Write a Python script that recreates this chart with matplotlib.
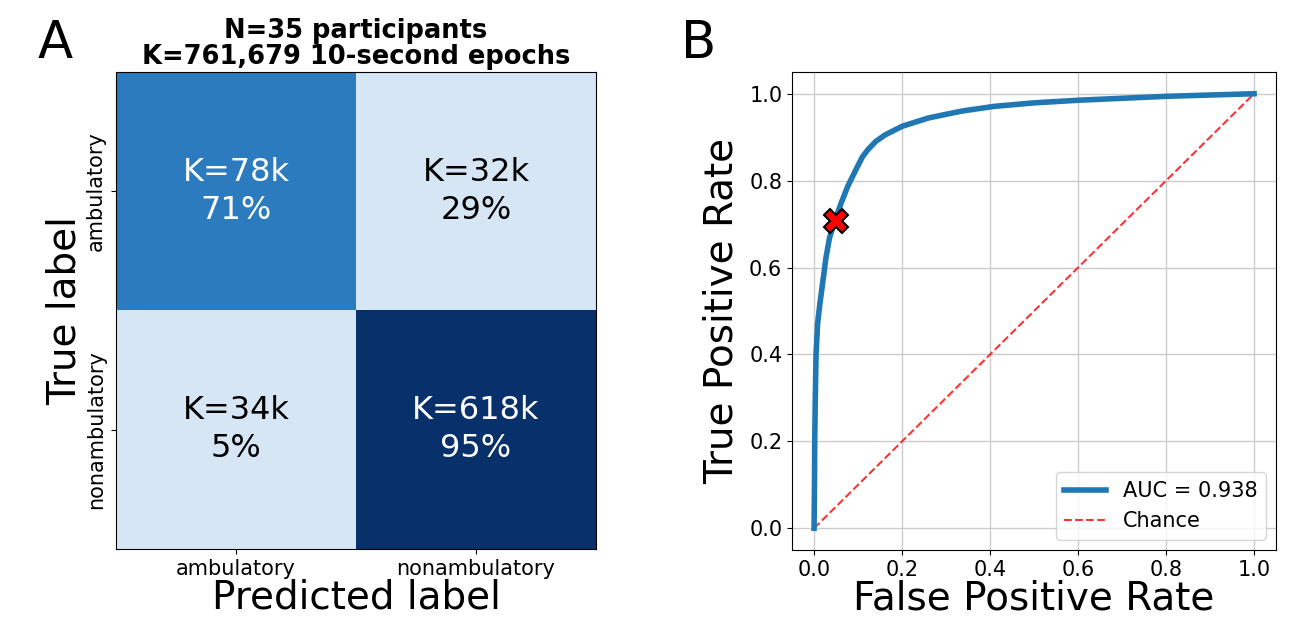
import numpy as np
import matplotlib
matplotlib.use('Agg')
import matplotlib.pyplot as plt
from matplotlib.colors import ListedColormap, BoundaryNorm

# confusion matrix (row-normalised %)
class_names = ['ambulatory', 'nonambulatory']
counts_k = [[78, 32], [34, 618]]
percents = [[71, 29], [5, 95]]
title_lines = ['N=35 participants', 'K=761,679 10-second epochs']

# ROC curve
fpr = [0.0, 0.001, 0.0015, 0.0028, 0.0045, 0.008, 0.013, 0.0205, 0.027, 0.035,
       0.048, 0.0614, 0.0766, 0.095, 0.11, 0.123, 0.14, 0.161, 0.2, 0.259,
       0.335, 0.41, 0.5, 0.6, 0.8, 1.0]
tpr = [0.0, 0.1, 0.2, 0.3, 0.4, 0.47, 0.515, 0.572, 0.622, 0.668,
       0.71, 0.748, 0.787, 0.825, 0.855, 0.872, 0.89, 0.905, 0.925, 0.944,
       0.96, 0.971, 0.979, 0.985, 0.994, 1.0]
op_point = (0.049, 0.708)
auc_value = 0.938

fig = plt.figure(figsize=(12.9, 6.17), dpi=100)

# --- panel A: confusion matrix
ax1 = fig.add_axes([0.0899, 0.1102, 0.3721, 0.7731])
cell_cmap = ListedColormap(['#d6e6f5', '#2c7bbf', '#08306b'])
cell_norm = BoundaryNorm([0, 50, 80, 100], cell_cmap.N)
pct = np.array(percents)
ax1.imshow(pct, cmap=cell_cmap, norm=cell_norm, aspect='auto')
for i in range(2):
    for j in range(2):
        colour = 'white' if pct[i, j] > 50 else 'black'
        ax1.text(j, i, f'K={counts_k[i][j]}k\n{pct[i, j]}%', ha='center', va='center',
                 fontsize=23, color=colour, linespacing=1.3)
ax1.set_xticks([0, 1])
ax1.set_xticklabels(class_names, fontsize=15)
ax1.set_yticks([0, 1])
ax1.set_yticklabels(class_names, fontsize=15, rotation=90, va='center')
ax1.set_xlabel('Predicted label', fontsize=28, labelpad=0)
ax1.set_ylabel('True label', fontsize=28, labelpad=2)
ax1.set_title('\n'.join(title_lines), fontsize=18.5, fontweight='bold', linespacing=1.0, pad=6)

# --- panel B: ROC
ax2 = fig.add_axes([0.614, 0.1086, 0.3752, 0.7747])
ax2.plot(fpr, tpr, color='#1f77b4', lw=4, label=f'AUC = {auc_value}', zorder=3,
         solid_joinstyle='round')
ax2.plot([0, 1], [0, 1], 'r--', lw=1.5, alpha=0.8, label='Chance', zorder=2)
ax2.plot(*op_point, marker='X', markersize=17, color='red',
         markeredgecolor='black', markeredgewidth=1.5, zorder=4)
ax2.set_xlim(-0.05, 1.05)
ax2.set_ylim(-0.05, 1.05)
ax2.set_xticks(np.arange(0, 1.01, 0.2))
ax2.set_yticks(np.arange(0, 1.01, 0.2))
ax2.tick_params(labelsize=15)
ax2.grid(True, color='#cccccc', lw=1)
ax2.set_xlabel('False Positive Rate', fontsize=28, labelpad=0)
ax2.set_ylabel('True Positive Rate', fontsize=28, labelpad=6)
ax2.legend(loc='lower right', fontsize=15)

fig.text(0.029, 0.906, 'A', fontsize=37, va='baseline')
fig.text(0.528, 0.906, 'B', fontsize=37, va='baseline')

fig.savefig('out.png', dpi=100)
